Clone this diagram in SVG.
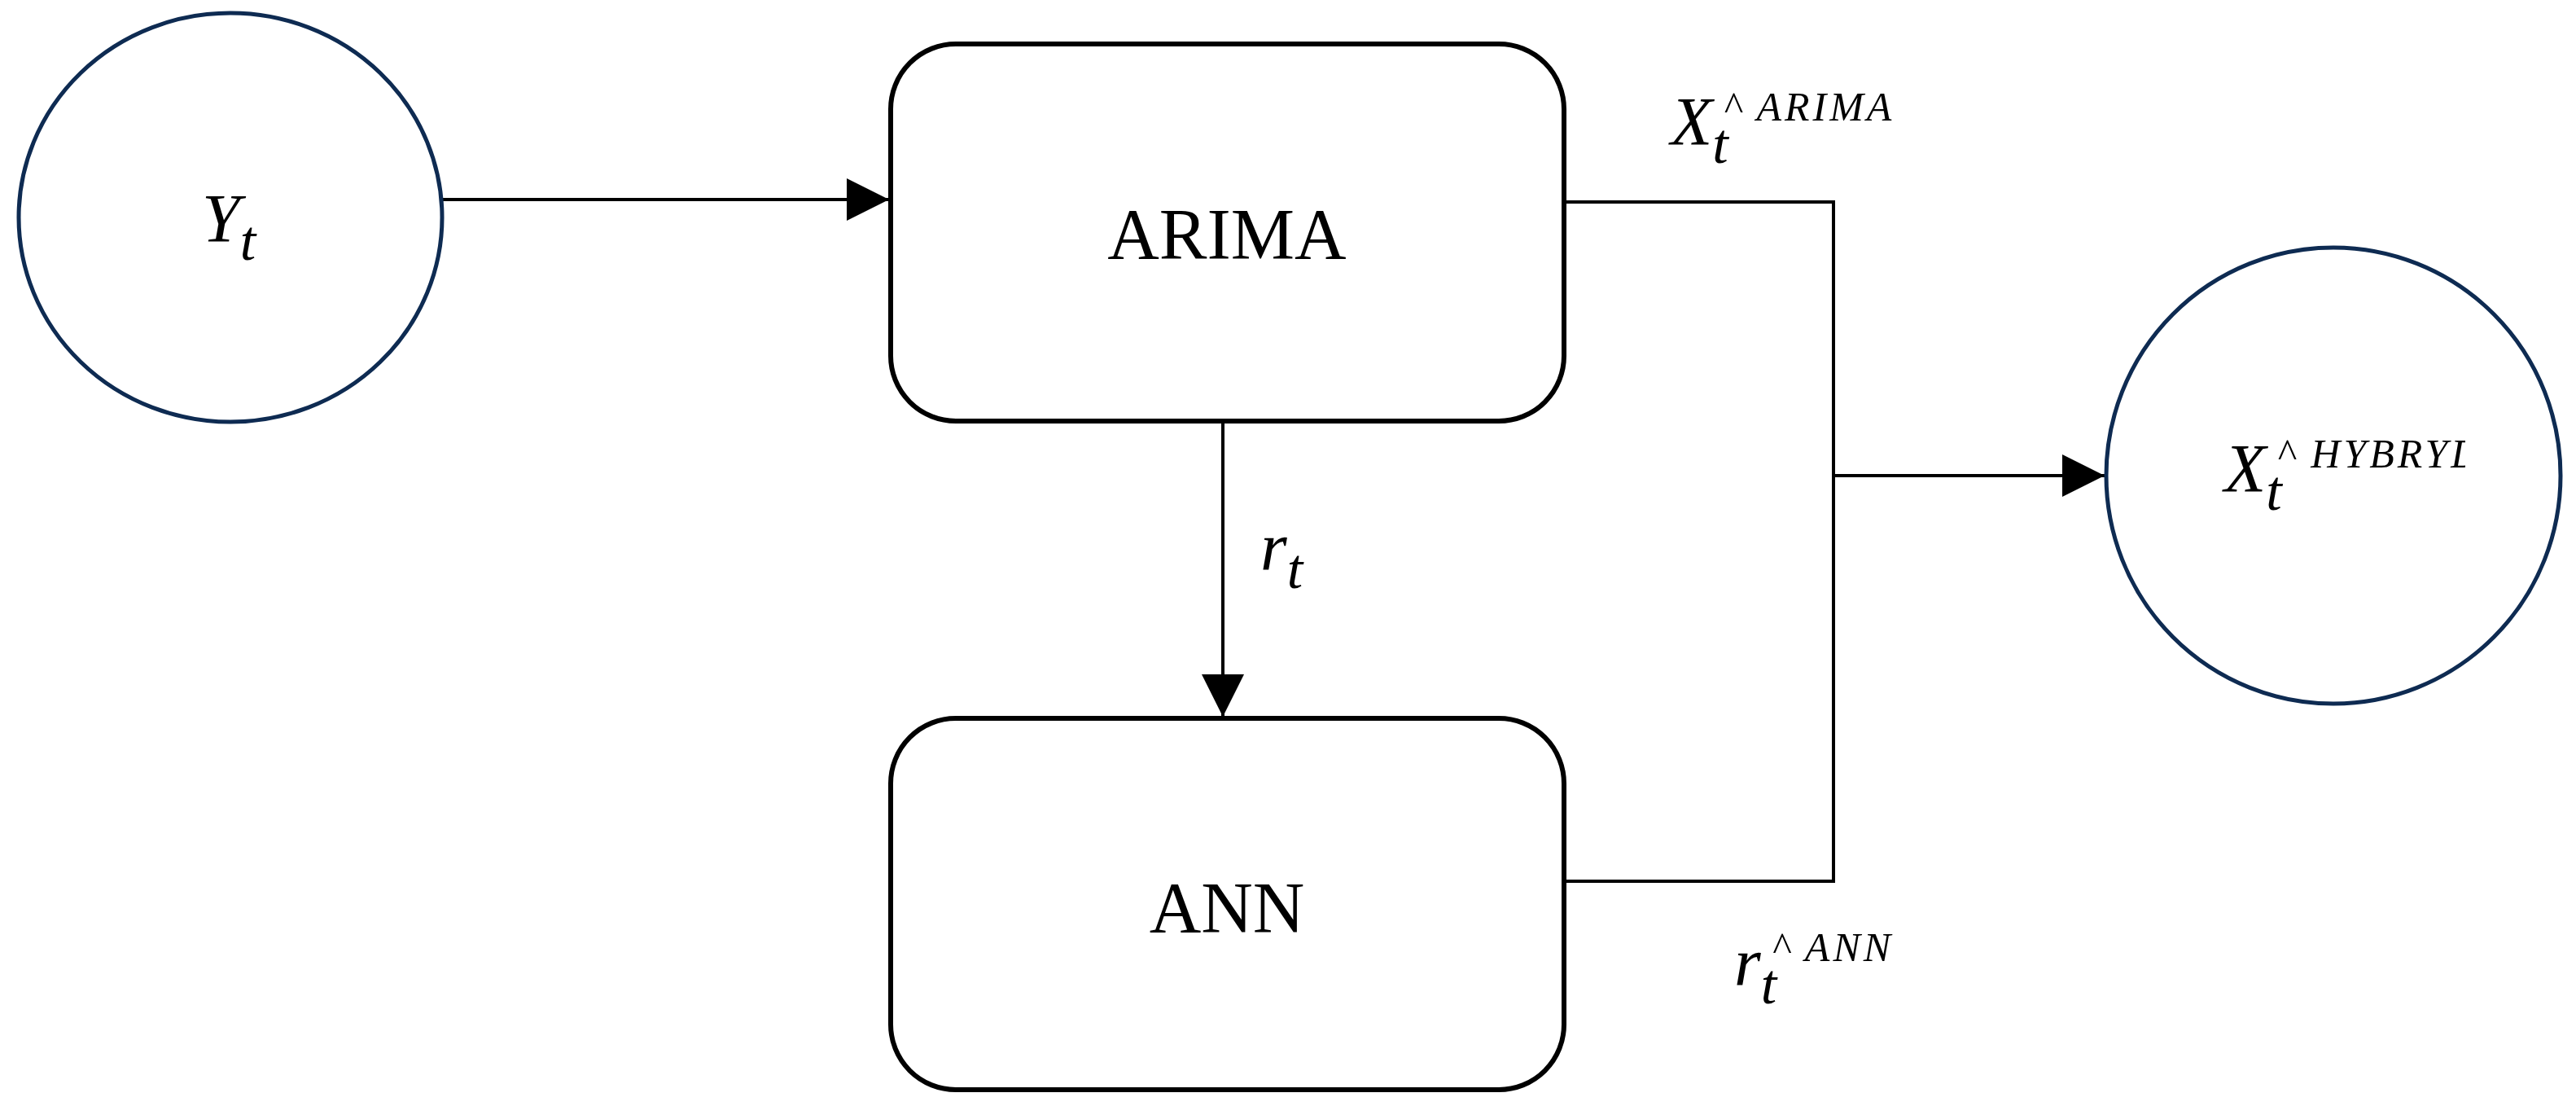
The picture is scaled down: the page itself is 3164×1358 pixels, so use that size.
<svg xmlns="http://www.w3.org/2000/svg" width="3164" height="1358" viewBox="0 0 3164 1358">
<style>
.c{fill:#fff;stroke:#0e2b52;stroke-width:5}
.b{fill:#fff;stroke:#000;stroke-width:6}
.l{fill:none;stroke:#000;stroke-width:4}
.t{font-family:"Liberation Serif",serif;font-size:88px;fill:#000}
.m{font-family:"Liberation Serif",serif;font-style:italic;font-size:84px;fill:#000}
.s{font-family:"Liberation Serif",serif;font-style:italic;font-size:50px;fill:#000;letter-spacing:4px}
</style>
<defs>
<marker id="ah" viewBox="0 0 52 52" markerWidth="52" markerHeight="52" refX="52" refY="26" orient="auto" markerUnits="userSpaceOnUse"><path d="M0,0L52,26L0,52Z" fill="#000"/></marker>
<clipPath id="cp"><rect x="2600" y="400" width="428" height="300"/></clipPath>
</defs>
<g id="connectors">
<path class="l" d="M543,245H1092" marker-end="url(#ah)"/>
<path class="l" d="M1502,517V880" marker-end="url(#ah)"/>
<path class="l" d="M1921,248H2252V1082H1921"/>
<path class="l" d="M2252,584H2585" marker-end="url(#ah)"/>
<text class="m" x="1548" y="700">r<tspan dy="22" font-size="70">t</tspan></text>
<text class="m" x="2052" y="178">X<tspan dy="22" font-size="70">t</tspan><tspan class="s" dx="-6" dy="-52">^ ARIMA</tspan></text>
<text class="m" x="2130" y="1210">r<tspan dy="22" font-size="70">t</tspan><tspan class="s" dx="-6" dy="-52">^ ANN</tspan></text>
</g>
<g id="yt">
<ellipse class="c" cx="283" cy="267" rx="260" ry="251"/>
<text class="m" x="248" y="297">Y<tspan dy="22" font-size="70">t</tspan></text>
</g>
<g id="arima">
<rect class="b" x="1094" y="54" width="827" height="463" rx="80"/>
<text class="t" x="1507" y="317" text-anchor="middle">ARIMA</text>
</g>
<g id="ann">
<rect class="b" x="1094" y="882" width="827" height="456" rx="80"/>
<text class="t" x="1507" y="1144" text-anchor="middle">ANN</text>
</g>
<g id="hybrid">
<ellipse class="c" cx="2866" cy="584" rx="279" ry="280"/>
<text class="m" x="2732" y="604" clip-path="url(#cp)">X<tspan dy="22" font-size="70">t</tspan><tspan class="s" dx="-6" dy="-52">^ HYBRYD</tspan></text>
</g>
</svg>
